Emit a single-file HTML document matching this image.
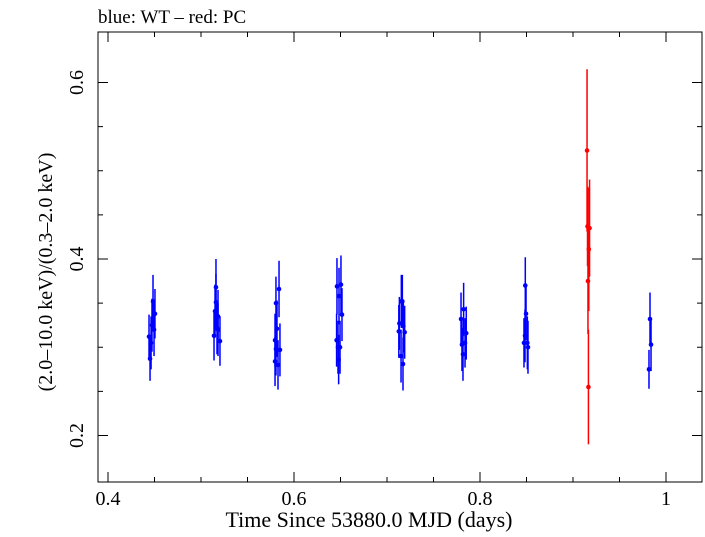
<!DOCTYPE html>
<html><head><meta charset="utf-8"><style>
body{margin:0;background:#fff;}
svg text{font-family:"Liberation Serif",serif;fill:#000;}
</style></head><body>
<svg width="705" height="532" xmlns="http://www.w3.org/2000/svg">
<text x="98" y="23" font-size="19">blue: WT – red: PC</text>
<rect x="98" y="32" width="604" height="450" fill="none" stroke="#000" stroke-width="1"/>
<g id="ticks"></g>
<g id="marks"></g>
<text x="369" y="527" font-size="22" text-anchor="middle">Time Since 53880.0 MJD (days)</text>
<text transform="translate(52,272) rotate(-90)" font-size="20" text-anchor="middle">(2.0–10.0 keV)/(0.3–2.0 keV)</text>
</svg>
<script>
const xTicks=[0.4,0.6,0.8,1.0];
const xTickLabels=["0.4","0.6","0.8","1"];
const yTicks=[0.2,0.4,0.6];
const yTickLabels=["0.2","0.4","0.6"];
const wtTime=[0.4441,0.4452,0.4463,0.4484,0.4505,0.4495,0.4473,
0.5140,0.5151,0.5161,0.5161,0.5172,0.5183,0.5204,0.5183,
0.5796,0.5806,0.5817,0.5806,0.5839,0.5849,0.5828,0.5796,
0.6462,0.6505,0.6484,0.6516,0.6458,0.6495,0.6480,0.6473,
0.7154,0.7165,0.7133,0.7176,0.7127,0.7190,0.7151,0.7172,
0.7824,0.7796,0.7852,0.7839,0.7806,0.7817,
0.8487,0.8495,0.8484,0.8473,0.8509,0.8516,
0.9828,0.9839,0.9817];
const wtValue=[0.312,0.287,0.305,0.352,0.338,0.320,0.325,
0.313,0.341,0.351,0.368,0.322,0.335,0.307,0.320,
0.284,0.298,0.321,0.350,0.366,0.297,0.280,0.308,
0.369,0.371,0.358,0.337,0.308,0.300,0.286,0.300,
0.352,0.352,0.327,0.324,0.318,0.317,0.290,0.281,
0.343,0.332,0.316,0.305,0.303,0.292,
0.370,0.338,0.313,0.305,0.305,0.300,
0.332,0.303,0.275];
const wtErr=[0.025,0.025,0.03,0.03,0.028,0.03,0.03,
0.028,0.03,0.032,0.032,0.03,0.03,0.028,0.03,
0.028,0.03,0.032,0.03,0.032,0.03,0.028,0.03,
0.032,0.033,0.032,0.03,0.03,0.03,0.028,0.03,
0.03,0.03,0.03,0.03,0.03,0.03,0.03,0.03,
0.03,0.03,0.03,0.028,0.03,0.03,
0.032,0.03,0.03,0.028,0.03,0.03,
0.03,0.03,0.022];
const pcTime=[0.9151,0.9156,0.9178,0.9170,0.9161,0.9166];
const pcValue=[0.523,0.437,0.435,0.411,0.375,0.255];
const pcErr=[0.092,0.045,0.055,0.07,0.06,0.065];
const X=t=>108+(t-0.4)*930;
const Y=v=>259-(v-0.4)*882.5;
const NS="http://www.w3.org/2000/svg";
const tg=document.getElementById('ticks'),mg=document.getElementById('marks');
function mk(tag,attrs,parent){const e=document.createElementNS(NS,tag);for(const k in attrs)e.setAttribute(k,attrs[k]);parent.appendChild(e);return e;}
xTicks.forEach((t,i)=>{const x=X(t);
 const l=mk('line',{x1:x,x2:x,y1:482,y2:472,stroke:'#000'},tg);
 
 
 const l2=mk('line',{x1:x,x2:x,y1:32,y2:42,stroke:'#000'},tg);
 
 
 const tx=mk('text',{x:x,y:505,'font-size':20,'text-anchor':'middle'},tg);tx.textContent=xTickLabels[i];
 
 
});
for(let t=0.45;t<1.0;t+=0.05){if(Math.abs((t*10)%2)<0.01||Math.abs((t*10)%2-2)<0.01)continue;const x=X(t);
 const m=mk('line',{x1:x,x2:x,y1:482,y2:477,stroke:'#000'},tg);
 
 
 const m2=mk('line',{x1:x,x2:x,y1:32,y2:37,stroke:'#000'},tg);
 
 }
yTicks.forEach((v,i)=>{const y=Y(v);
 const l=mk('line',{x1:98,x2:108,y1:y,y2:y,stroke:'#000'},tg);
 
 
 const l2=mk('line',{x1:692,x2:702,y1:y,y2:y,stroke:'#000'},tg);
 
 
 const tx=mk('text',{transform:`translate(83,${y}) rotate(-90)`,'font-size':20,'text-anchor':'middle'},tg);tx.textContent=yTickLabels[i];
 
 
});
[0.25,0.3,0.35,0.45,0.5,0.55].forEach(v=>{const y=Y(v);
 const m=mk('line',{x1:98,x2:103,y1:y,y2:y,stroke:'#000'},tg);
 
 
 const m2=mk('line',{x1:697,x2:702,y1:y,y2:y,stroke:'#000'},tg);
 
 });
function series(ts,vs,es,col,name){ts.forEach((t,i)=>{const x=X(t);
 const b=mk('line',{x1:x,x2:x,y1:Y(vs[i]+es[i]),y2:Y(vs[i]-es[i]),stroke:col,'stroke-width':1.5},mg);
 
 
 const c=mk('circle',{cx:x,cy:Y(vs[i]),r:2.3,fill:col},mg);
 
 });}
series(wtTime,wtValue,wtErr,'#0000ff','wt');
series(pcTime,pcValue,pcErr,'#ff0000','pc');
</script>
</body></html>
